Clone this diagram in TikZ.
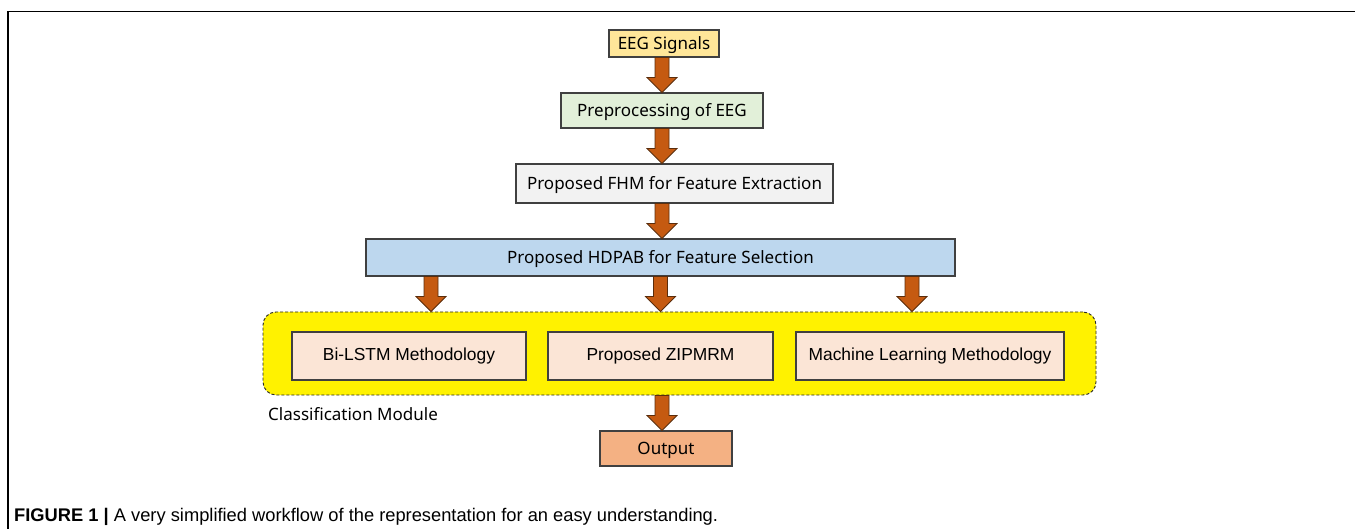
\documentclass[tikz,border=0pt]{standalone}
\usepackage{fontspec}
\setmainfont{Noto Sans}
\newfontfamily\arialfont{Liberation Sans}
\newfontfamily\capfont{Liberation Sans}
\usetikzlibrary{calc}

\definecolor{boxline}{HTML}{404040}
\definecolor{eegfill}{HTML}{FFE699}
\definecolor{prefill}{HTML}{E2F0D9}
\definecolor{fhmfill}{HTML}{F2F2F2}
\definecolor{selfill}{HTML}{BDD7EE}
\definecolor{methodfill}{HTML}{FBE5D6}
\definecolor{outfill}{HTML}{F4B183}
\definecolor{arrowfill}{HTML}{C55A11}
\definecolor{arrowline}{HTML}{5A2D0C}

\begin{document}
\begin{tikzpicture}[x=1pt, y=-1pt,
      box/.style={draw=boxline, line width=1.1pt, inner sep=0pt,
        text height=12.2pt, text depth=0pt,
        minimum height=35pt, font=\fontsize{17}{19}\selectfont},
      method/.style={box, fill=methodfill, minimum height=48pt,
        text height=12.5pt, text depth=4pt,
        font=\arialfont\fontsize{17.4}{19}\selectfont},
      module/.style={draw=black!85, line width=0.9pt, dash pattern=on 3pt off 2pt,
        rounded corners=13pt, fill=yellow, inner sep=0pt},
      blockarrow/.style={fill=arrowfill, draw=arrowline, line width=0.8pt,
        to path={let \p1=(\tikztostart), \p2=(\tikztotarget) in
          (\x1-7pt,\y1) -- (\x1-7pt,\y2+15pt) -- (\x1-15pt,\y2+15pt) -- (\x1,\y2)
          -- (\x1+15pt,\y2+15pt) -- (\x1+7pt,\y2+15pt) -- (\x1+7pt,\y1) -- cycle}},]
  %.
  \useasboundingbox (0,0) rectangle (1355,529);
  \draw[line width=1.3pt] (8,529) -- (8,11.5) -- (1355,11.5);
  %.
  \node[box, fill=eegfill, minimum width=110pt, minimum height=27pt] (eeg) at (664,43.5) {EEG Signals};
  \node[box, fill=prefill, minimum width=202pt] (pre) at (662,110.5) {Preprocessing of EEG};
  \node[box, fill=fhmfill, minimum width=317pt, minimum height=39pt] (fhm) at (674.5,183.5) {Proposed FHM for Feature Extraction};
  \node[box, fill=selfill, minimum width=589pt, minimum height=37pt] (hdpab) at (660.5,257.5) {Proposed HDPAB for Feature Selection};
  %.
  \node[module, minimum width=833pt, minimum height=83pt] (cls) at (679.5,353.5) {};
  \node[method, minimum width=234pt] (bilstm) at (409,356) {Bi-LSTM Methodology};
  \node[method, minimum width=225pt] (zip) at (660.5,356) {Proposed ZIPMRM};
  \node[method, minimum width=268pt] (ml) at (930,356) {Machine Learning Methodology};
  \node[anchor=base west, inner sep=0pt, font=\fontsize{17}{19}\selectfont] (clslabel) at (268,420) {Classification Module};
  %.
  \node[box, fill=outfill, minimum width=132pt] (out) at (666,448.5) {Output};
  %.
  \draw[blockarrow] (eeg.south -| pre.south) to (pre.north);
  \draw[blockarrow] (pre.south) to (fhm.north);
  \draw[blockarrow] (fhm.south -| pre.south) to (hdpab.north);
  \draw[blockarrow] ([xshift=-229.5pt]hdpab.south) to (cls.north);
  \draw[blockarrow] (hdpab.south) to (cls.north);
  \draw[blockarrow] ([xshift=251.5pt]hdpab.south) to (cls.north);
  \draw[blockarrow] (cls.south -| pre.south) to (out.north);
  %.
  \node[anchor=base west, inner sep=0pt, font=\capfont\fontsize{18.3}{21}\selectfont] (caption) at (14,521)
    {\textbf{FIGURE 1 |} A very simplified workflow of the representation for an easy understanding.};
  %.
\end{tikzpicture}
\end{document}
